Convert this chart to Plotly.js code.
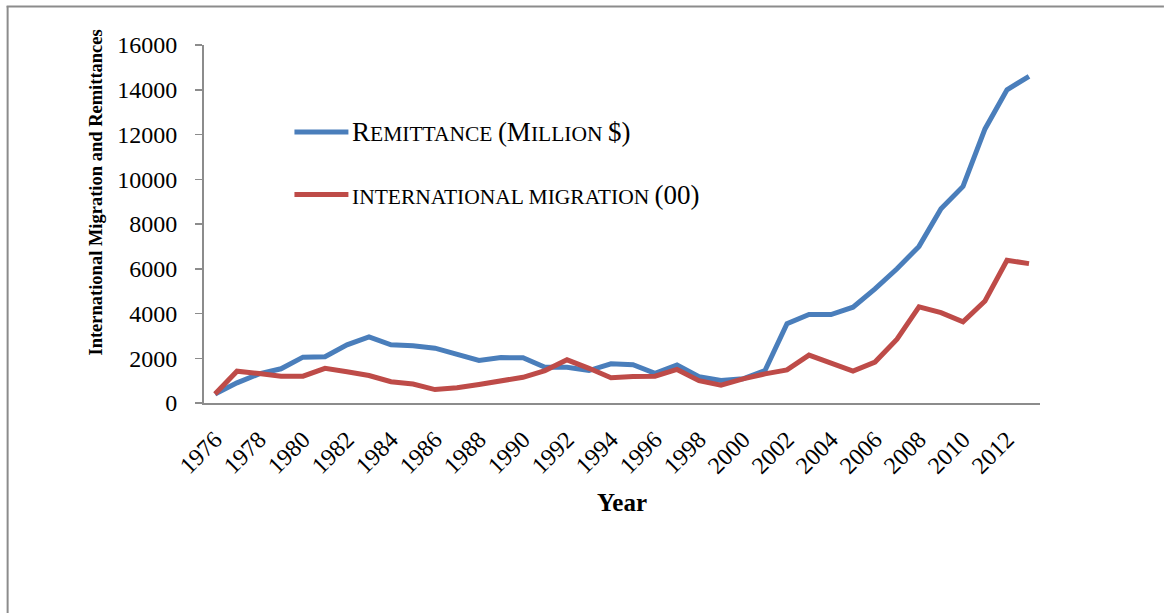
<!DOCTYPE html>
<html><head><meta charset="utf-8">
<script src="https://cdn.plot.ly/plotly-3.0.1.min.js"></script>
<style>html,body{margin:0;padding:0;background:#fff}#chart{width:1164px;height:613px}</style>
</head><body><div id="chart"></div>
<script>
const years = ["1976","1977","1978","1979","1980","1981","1982","1983","1984","1985",
  "1986","1987","1988","1989","1990","1991","1992","1993","1994","1995",
  "1996","1997","1998","1999","2000","2001","2002","2003","2004","2005",
  "2006","2007","2008","2009","2010","2011","2012","2013"];
const remittance = [400,900,1300,1530,2050,2070,2600,2950,2600,2560,
  2450,2200,1900,2030,2020,1600,1600,1450,1750,1710,
  1330,1700,1170,1010,1080,1450,3550,3960,3950,4280,
  5100,6000,7000,8680,9680,12250,14000,14600];
const migration = [400,1420,1320,1200,1200,1550,1400,1230,950,850,
  600,680,830,980,1150,1450,1930,1550,1130,1180,
  1200,1500,1000,800,1080,1300,1480,2140,1760,1430,
  1830,2850,4300,4040,3630,4560,6380,6230];
const tickYears = years.filter((y, i) => i % 2 === 0);
const seriesNames = ["Remittance (Million $)", "International migration (00)"];
const colors = ["#4A7EBB", "#BE4B48"];

const W = 1164, H = 613;
const M = {l: 203.5, r: 124, t: 45, b: 210};
const pw = W - M.l - M.r, ph = H - M.t - M.b;
const px = x => (x - M.l) / pw;
const py = y => (H - M.b - y) / ph;
const serif = "Liberation Serif, Times New Roman, serif";

const big = 27, small = 21.5;
const leg1 = '<span style="font-size:'+big+'px">R</span>EMITTANCE <span style="font-size:'+big+'px">(M</span>ILLION <span style="font-size:'+big+'px">$)</span>';
const leg2 = 'INTERNATIONAL MIGRATION <span style="font-size:'+big+'px">(00)</span>';

const traces = [
  {x: years, y: remittance, name: seriesNames[0], type: "scatter", mode: "lines",
   line: {color: colors[0], width: 5}},
  {x: years, y: migration, name: seriesNames[1], type: "scatter", mode: "lines",
   line: {color: colors[1], width: 5}}
];

const layout = {
  width: W, height: H,
  margin: {l: M.l, r: M.r, t: M.t, b: M.b, pad: 0},
  paper_bgcolor: "#fff", plot_bgcolor: "#fff",
  showlegend: false,
  font: {family: serif, color: "#000"},
  xaxis: {
    type: "category", range: [-0.5, 37.5],
    tickmode: "array", tickvals: tickYears, ticktext: tickYears,
    tickangle: -45, ticks: "", showgrid: false, zeroline: false,
    ticklabelstandoff: 11,
    showline: true, linecolor: "#8c8c8c", linewidth: 2,
    tickfont: {family: serif, size: 24, color: "#000"}
  },
  yaxis: {
    range: [0, 16000], dtick: 2000, tick0: 0, tickformat: "d",
    ticks: "outside", ticklen: 7, tickwidth: 1.5, tickcolor: "#8c8c8c",
    ticklabelstandoff: 13,
    showgrid: false, zeroline: false,
    showline: true, linecolor: "#8c8c8c", linewidth: 2,
    tickfont: {family: serif, size: 24, color: "#000"}
  },
  shapes: [
    {type: "line", xref: "paper", yref: "paper", x0: px(6), x1: px(1164), y0: py(6.5), y1: py(6.5),
     line: {color: "#8c8c8c", width: 2}},
    {type: "line", xref: "paper", yref: "paper", x0: px(7), x1: px(7), y0: py(6), y1: py(613),
     line: {color: "#8c8c8c", width: 2}},
    {type: "line", xref: "paper", yref: "paper", x0: px(294), x1: px(348), y0: py(132), y1: py(132),
     line: {color: colors[0], width: 5}},
    {type: "line", xref: "paper", yref: "paper", x0: px(294), x1: px(348), y0: py(194.5), y1: py(194.5),
     line: {color: colors[1], width: 5}}
  ],
  annotations: [
    {xref: "paper", yref: "paper", x: px(350), y: py(132), xanchor: "left", yanchor: "middle",
     text: leg1, showarrow: false, font: {family: serif, size: small, color: "#000"}},
    {xref: "paper", yref: "paper", x: px(350), y: py(194.5), xanchor: "left", yanchor: "middle",
     text: leg2, showarrow: false, font: {family: serif, size: small, color: "#000"}},
    {xref: "paper", yref: "paper", x: px(95), y: py(193), xanchor: "center", yanchor: "middle",
     textangle: -90, text: "<b>International Migration and Remittances</b>", showarrow: false,
     font: {family: serif, size: 18.5, color: "#000"}},
    {xref: "paper", yref: "paper", x: px(622), y: py(502), xanchor: "center", yanchor: "middle",
     text: "<b>Year</b>", showarrow: false, font: {family: serif, size: 25, color: "#000"}}
  ]
};

Plotly.newPlot("chart", traces, layout, {displayModeBar: false, staticPlot: true});
</script>
</body></html>
